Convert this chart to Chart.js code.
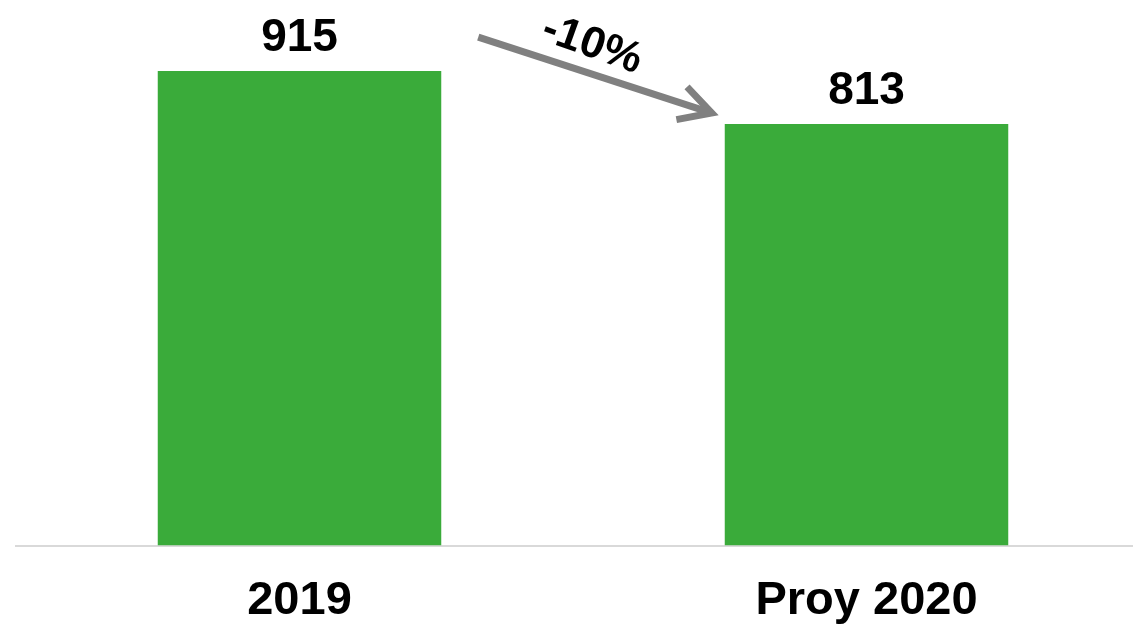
<!DOCTYPE html>
<html lang="es">
<head>
    <meta charset="UTF-8">
    <title>2019 vs Proy 2020</title>
    <script src="https://cdn.jsdelivr.net/npm/chart.js"></script>
    <style>
        html, body {
            margin: 0;
            padding: 0;
            background: #ffffff;
            overflow: hidden;
        }

        /* algo mas grande que la ventana: el borde derecho y el inferior quedan fuera */
        .chart-wrapper {
            width: 1150px;
            height: 656px;
        }
    </style>
</head>
<body>
    <div class="chart-wrapper">
        <canvas id="chart"></canvas>
    </div>

    <script>
        const categories = ['2019', 'Proy 2020'];
        const values = [915, 813];
        const changeLabel = '-10%';

        const FONT = '"Liberation Sans", Arial, sans-serif';
        const GREEN = '#3aab3a';
        const GREY = '#808080';

        // etiquetas de valor sobre cada barra + flecha de variacion
        const annotations = {
            id: 'annotations',
            afterDatasetsDraw(chart) {
                const ctx = chart.ctx;
                const bars = chart.getDatasetMeta(0).data;

                ctx.save();
                ctx.fillStyle = '#000000';
                ctx.font = 'bold 46px ' + FONT;
                ctx.textAlign = 'center';
                ctx.textBaseline = 'alphabetic';
                bars.forEach((bar, i) => {
                    ctx.fillText(values[i], bar.x, bar.y - 20);
                });

                // flecha entre las dos barras
                const a = bars[0], b = bars[1];
                const x1 = a.x + a.width / 2 + 37, y1 = a.y - 34;
                const x2 = b.x - b.width / 2 - 13, y2 = b.y - 11;
                const ang = Math.atan2(y2 - y1, x2 - x1);

                ctx.strokeStyle = GREY;
                ctx.lineWidth = 7;
                ctx.lineCap = 'butt';
                ctx.lineJoin = 'miter';
                ctx.beginPath();
                ctx.moveTo(x1, y1);
                ctx.lineTo(x2 - 3 * Math.cos(ang), y2 - 3 * Math.sin(ang));
                ctx.stroke();

                const head = 36, spread = 0.5;
                ctx.beginPath();
                ctx.moveTo(x2 - head * Math.cos(ang - spread), y2 - head * Math.sin(ang - spread));
                ctx.lineTo(x2, y2);
                ctx.lineTo(x2 - head * Math.cos(ang + spread), y2 - head * Math.sin(ang + spread));
                ctx.stroke();

                // texto del porcentaje, girado con la flecha
                const mx = (x1 + x2) / 2, my = (y1 + y2) / 2;
                ctx.translate(mx - 3, my - 30);
                ctx.rotate(ang + 0.03);
                ctx.font = 'bold 44px ' + FONT;
                ctx.textBaseline = 'middle';
                ctx.fillText(changeLabel, 0, 0);
                ctx.restore();
            }
        };

        new Chart(document.getElementById('chart'), {
            type: 'bar',
            data: {
                labels: categories,
                datasets: [{
                    data: values,
                    backgroundColor: GREEN,
                    borderWidth: 0,
                    barPercentage: 0.5,
                    categoryPercentage: 1
                }]
            },
            options: {
                responsive: true,
                maintainAspectRatio: false,
                animation: false,
                layout: {
                    padding: { top: 27, left: 16, right: 0, bottom: 0 }
                },
                plugins: {
                    legend: { display: false },
                    tooltip: { enabled: false }
                },
                scales: {
                    x: {
                        grid: { display: true, drawOnChartArea: false, drawTicks: false },
                        border: { display: true, color: '#d9d9d9', width: 2 },
                        ticks: {
                            color: '#000000',
                            padding: 27,
                            font: { family: FONT, size: 47, weight: 'bold' }
                        }
                    },
                    y: {
                        display: false,
                        min: 0,
                        max: 1000
                    }
                }
            },
            plugins: [annotations]
        });
    </script>
</body>
</html>
